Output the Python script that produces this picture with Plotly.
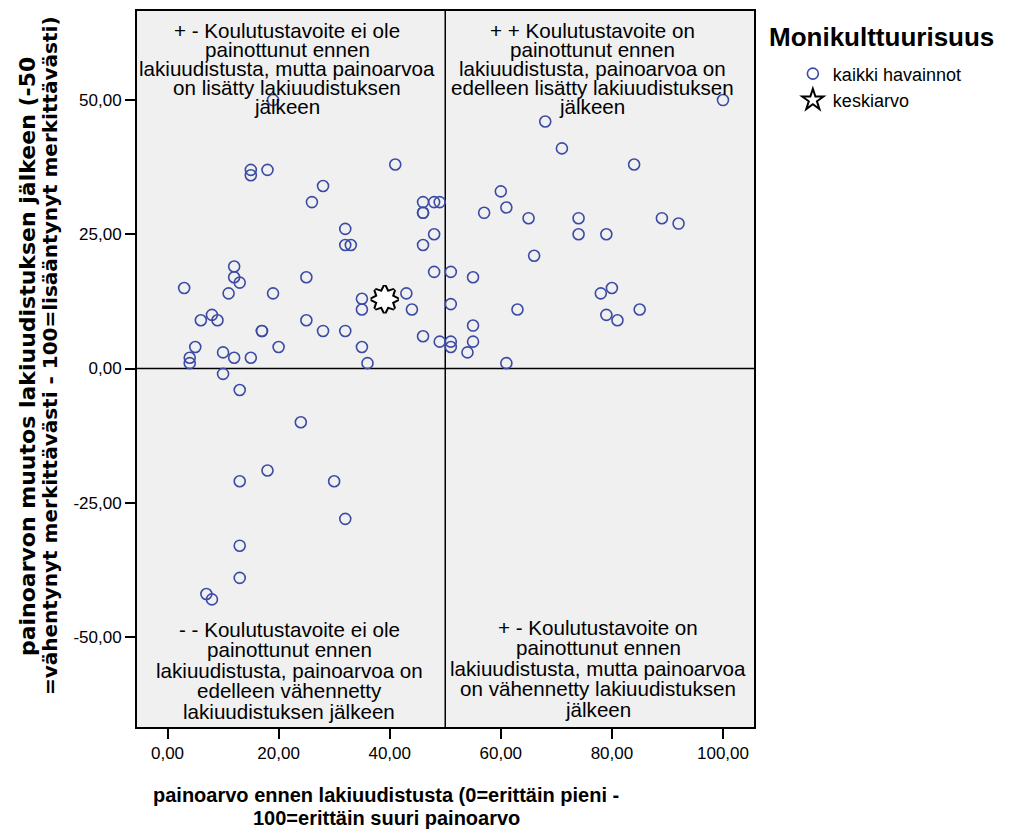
import plotly.graph_objects as go

# painoarvo ennen lakiuudistusta (x) ja painoarvon muutos lakiuudistuksen jälkeen (y)
before = [
    19, 15, 15, 18, 41, 28, 26, 46, 48, 49,
    46, 46, 32, 32, 33, 48, 46,
    12, 12, 13, 3, 11, 19, 25, 48,
    35, 35, 43, 44,
    6, 8, 9, 25, 17, 17, 28, 32, 46, 49,
    5, 20, 35, 10, 4, 4, 12, 15, 36,
    10, 13, 24, 18, 13, 30, 32, 13, 13, 7, 8,
    100, 68, 71, 84, 60, 57, 61, 65, 74, 74, 79, 89, 92,
    66, 51, 55, 51, 63, 78, 80, 79, 81, 85,
    55, 51, 51, 55, 54, 61,
]
change = [
    50, 37, 36, 37, 38, 34, 31, 31, 31, 31,
    29, 29, 26, 23, 23, 25, 23,
    19, 17, 16, 15, 14, 14, 17, 18,
    13, 11, 14, 11,
    9, 10, 9, 9, 7, 7, 7, 7, 6, 5,
    4, 4, 4, 3, 2, 1, 2, 2, 1,
    -1, -4, -10, -19, -21, -21, -28, -33, -39, -42, -43,
    50, 46, 41, 38, 33, 29, 30, 28, 28, 25, 25, 28, 27,
    21, 18, 17, 12, 11, 14, 15, 10, 9, 11,
    8, 5, 4, 5, 3, 1,
]
mean_before = 39.1
mean_change = 12.9

x_tickvals = [0, 20, 40, 60, 80, 100]
x_ticktext = ["0,00", "20,00", "40,00", "60,00", "80,00", "100,00"]
y_tickvals = [-50, -25, 0, 25, 50]
y_ticktext = ["-50,00", "-25,00", "0,00", "25,00", "50,00"]

text_top_left = [
    "+ - Koulutustavoite ei ole",
    "painottunut ennen",
    "lakiuudistusta, mutta painoarvoa",
    "on lisätty lakiuudistuksen",
    "jälkeen",
]
text_top_right = [
    "+ + Koulutustavoite on",
    "painottunut ennen",
    "lakiuudistusta, painoarvoa on",
    "edelleen lisätty lakiuudistuksen",
    "jälkeen",
]
text_bottom_left = [
    "- - Koulutustavoite ei ole",
    "painottunut ennen",
    "lakiuudistusta, painoarvoa on",
    "edelleen vähennetty",
    "lakiuudistuksen jälkeen",
]
text_bottom_right = [
    "+ - Koulutustavoite on",
    "painottunut ennen",
    "lakiuudistusta, mutta painoarvoa",
    "on vähennetty lakiuudistuksen",
    "jälkeen",
]
x_title = ["painoarvo ennen lakiuudistusta (0=erittäin pieni -",
           "100=erittäin suuri painoarvo"]
y_title = ["painoarvon muutos lakiuudistuksen jälkeen (-50",
           "=vähentynyt merkittävästi - 100=lisääntynyt merkittävästi)"]

BLUE = "#3B4BA4"
FONT = "Liberation Sans, Arial, sans-serif"

fig = go.Figure()

# quadrant dividers
fig.add_vline(x=50, line=dict(color="black", width=1.5), layer="below")
fig.add_hline(y=0, line=dict(color="black", width=1.5), layer="below")

fig.add_trace(go.Scatter(
    x=before, y=change, mode="markers", name="kaikki havainnot",
    marker=dict(symbol="circle-open", size=11, color=BLUE,
                line=dict(color=BLUE, width=1.6)),
))

# 8-point burst for the mean: black rhombs underneath, white ones on top
star_angles = [0, 45, 90, 135]
fig.add_trace(go.Scatter(
    x=[mean_before] * 4, y=[mean_change] * 4, mode="markers",
    marker=dict(symbol="diamond-tall", size=19, angle=star_angles,
                color="black", line=dict(color="black", width=4)),
    showlegend=False, hoverinfo="skip",
))
fig.add_trace(go.Scatter(
    x=[mean_before] * 4, y=[mean_change] * 4, mode="markers",
    marker=dict(symbol="diamond-tall", size=19, angle=star_angles,
                color="white", line=dict(width=0)),
    showlegend=False, hoverinfo="skip",
))
fig.add_trace(go.Scatter(
    x=[None], y=[None], mode="markers", name="keskiarvo",
    marker=dict(symbol="star", size=16, color="white",
                line=dict(color="black", width=2)),
))

# quadrant labels, one annotation per line for tight line spacing
blocks = [
    (text_top_left, 21.6, 1, -19.3, -19),
    (text_top_right, 76.5, 1, -19.3, -19),
    (text_bottom_left, 21.9, 0, 98, -20.5),
    (text_bottom_right, 77.5, 0, 100, -20.5),
]
for lines, xc, yp, shift0, step in blocks:
    for i, line in enumerate(lines):
        fig.add_annotation(
            x=xc, xref="x", y=yp, yref="paper", text=line, showarrow=False,
            xanchor="center", yanchor="middle", yshift=shift0 + step * i,
            font=dict(family=FONT, size=20.6, color="black"),
        )

for i, line in enumerate(x_title):
    fig.add_annotation(
        x=0.4036, xref="paper", y=-0.0947 - 0.032 * i, yref="paper",
        text=line, showarrow=False, xanchor="center", yanchor="middle",
        font=dict(family=FONT, size=20, color="black", weight="bold"),
    )
# second line is squeezed in the original, so it gets a smaller size
y_title_sizes = [22, 20]
for i, line in enumerate(y_title):
    fig.add_annotation(
        x=-0.1783 + 0.0373 * i, xref="paper", y=0.518, yref="paper",
        text=line, showarrow=False, textangle=-90,
        xanchor="center", yanchor="middle",
        font=dict(family="DejaVu Sans, sans-serif", size=y_title_sizes[i],
                  color="black", weight="bold"),
    )

fig.add_annotation(
    x=1.021, xref="paper", y=0.964, yref="paper", text="Monikulttuurisuus",
    showarrow=False, xanchor="left", yanchor="middle",
    font=dict(family=FONT, size=26, color="black", weight="bold"),
)

axis_common = dict(
    showgrid=False, zeroline=False, showline=True, mirror=True,
    linecolor="black", linewidth=2, ticks="outside", ticklen=10,
    tickwidth=2, tickcolor="black",
    tickfont=dict(family=FONT, size=17, color="black"),
)
fig.update_xaxes(range=[-5.49, 105.58], tickvals=x_tickvals,
                 ticktext=x_ticktext, **axis_common)
fig.update_yaxes(range=[-66.77, 66.59], tickvals=y_tickvals,
                 ticktext=y_ticktext, **axis_common)

# the page body adds 8px around the figure
fig.update_layout(
    width=997, height=823,
    margin=dict(l=129, r=251, t=1, b=104),
    plot_bgcolor="#F0F0F0", paper_bgcolor="white",
    font=dict(family=FONT, color="black"),
    legend=dict(x=1.063, y=0.938, xanchor="left", yanchor="top",
                font=dict(family=FONT, size=18, color="black"),
                bgcolor="rgba(0,0,0,0)"),
)

fig.write_html("out.html")
